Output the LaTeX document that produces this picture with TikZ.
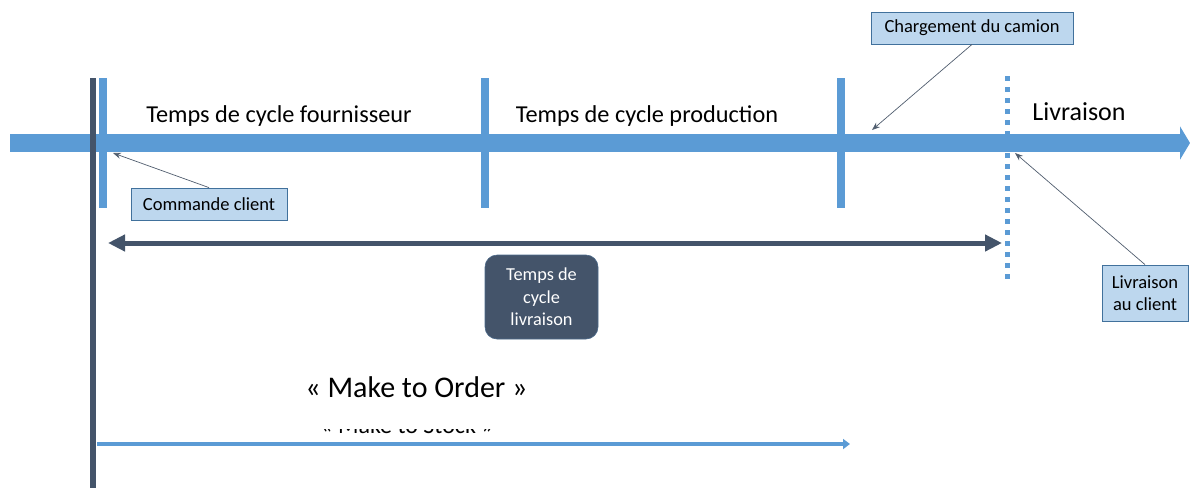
\documentclass[tikz,border=0pt]{standalone}
\usepackage{fontspec}
\setmainfont{Carlito}
\usetikzlibrary{arrows.meta}
\definecolor{cblue}{HTML}{5B9BD5}
\definecolor{cdark}{HTML}{44546A}
\definecolor{clight}{HTML}{BDD7EE}
\definecolor{cedge}{HTML}{41719C}
\tikzset{
  callout/.style={draw=cedge, fill=clight, line width=0.8pt, inner sep=0pt, font=\fontsize{18.5}{22.5}\selectfont, align=center},
  pointer/.style={draw=cdark!80!gray, line width=0.7pt, -{Stealth[length=8pt,width=6pt]}},
  tick/.style={draw=cblue, line width=8pt},
  phase/.style={font=\fontsize{24.3}{28}\selectfont, anchor=base},
}
\begin{document}
\begin{tikzpicture}[x=1pt,y=-1pt]
\useasboundingbox (0,0) rectangle (1190,488);
% main axis
\coordinate (a0) at (10,143);
\coordinate (a1) at (1190,143);
\draw[cblue, line width=18pt, -{Triangle[length=10pt,width=33pt]}] (a0) -- (a1);
% ticks
\coordinate (t1a) at (103,78); \coordinate (t1b) at (103,208);
\coordinate (t2a) at (485,78); \coordinate (t2b) at (485,208);
\coordinate (t3a) at (841,78); \coordinate (t3b) at (841,208);
\draw[tick] (t1a) -- (t1b);
\draw[tick] (t2a) -- (t2b);
\draw[tick] (t3a) -- (t3b);
% dotted delivery line
\coordinate (da) at (1007,76); \coordinate (db) at (1007,282);
\draw[cblue, line width=5pt, dash pattern=on 5pt off 6pt] (da) -- (db);
% dark vertical line
\coordinate (va) at (93,78); \coordinate (vb) at (93,488);
\draw[cdark, line width=6pt] (va) -- (vb);
% phase labels
\node[phase] (ph1) at (279,122) {Temps de cycle fournisseur};
\node[phase] (ph2) at (647,122) {Temps de cycle production};
\node[phase, font=\fontsize{26}{30}\selectfont] (ph3) at (1079,120) {Livraison};
% callouts
\node[callout, minimum width=156pt, minimum height=32pt] (cmd) at (209,204) {Commande client};
\node[callout, minimum width=202pt, minimum height=32pt] (chg) at (972,28) {Chargement du camion};
\node[callout, minimum width=86pt, minimum height=56pt] (liv) at (1145,293) {Livraison\\au client};
\coordinate (pcmd) at (113,153);
\coordinate (pchg) at (872,130);
\coordinate (pliv) at (1015,153);
\draw[pointer] (cmd.north) -- (pcmd);
\draw[pointer] (chg.south) -- (pchg);
\draw[pointer] (liv.north) -- (pliv);
% double arrow
\coordinate (d0) at (108,243);
\coordinate (d1) at (1002,243);
\draw[cdark, line width=5pt, {Triangle[length=17pt,width=16pt]}-{Triangle[length=17pt,width=16pt]}] (d0) -- (d1);
\node[fill=cdark, draw=cdark!70!cblue, line width=0.6pt, rounded corners=12pt, minimum width=113pt, minimum height=84pt, text=white, align=center, font=\fontsize{18.3}{22.5}\selectfont] (tcl) at (541.5,297) {Temps de\\cycle\\livraison};
% Make to order
\node[font=\fontsize{30}{34}\selectfont] (mto) at (416.5,387) {« Make to Order »};
% Make to stock (clipped)
\begin{scope}
\clip (250,429) rectangle (560,436);
\node[font=\fontsize{24}{28}\selectfont, anchor=base] (mts) at (407,433) {« Make to Stock »};
\end{scope}
% bottom arrow
\coordinate (b0) at (97,444);
\coordinate (b1) at (850,444);
\draw[cblue, line width=4pt, -{Triangle[length=7pt,width=10pt]}] (b0) -- (b1);
\end{tikzpicture}
\end{document}
